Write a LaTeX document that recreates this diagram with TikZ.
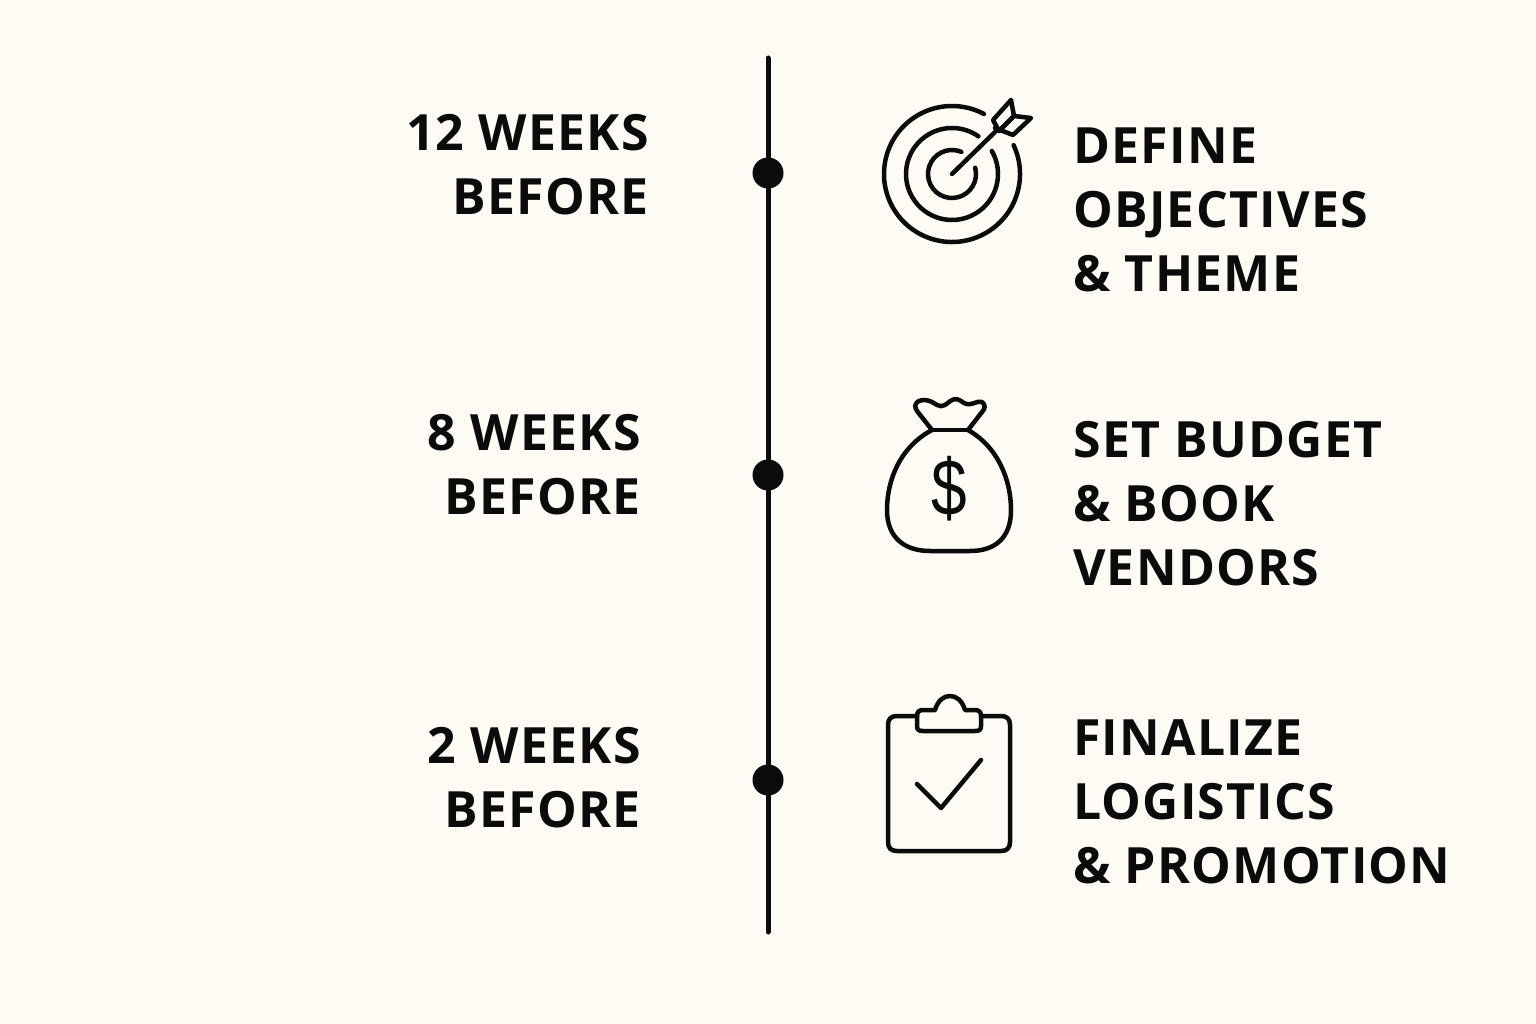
\documentclass[tikz,border=0pt]{standalone}
\usepackage{fontspec}
\setmainfont{Open Sans}[LetterSpace=2.5]
\newfontfamily\dollarfont{Liberation Sans}
\definecolor{paper}{HTML}{FEFBF5}
\definecolor{ink}{HTML}{0B0B0B}

\begin{document}
\begin{tikzpicture}[x=1pt,y=-1pt,
        when/.style={anchor=east, align=right, text=ink, inner sep=0pt, font=\bfseries\fontsize{50}{64}\selectfont},
        what/.style={anchor=west, align=left, text=ink, inner sep=0pt, font=\bfseries\fontsize{50}{64}\selectfont},
        dot/.style={circle, fill=ink, minimum size=31pt, inner sep=0pt},
        icon/.style={draw=ink, line width=4.5pt, line cap=round, line join=round}]
    \fill[paper] (0,0) rectangle (1536,1024);
    \useasboundingbox (0,0) rectangle (1536,1024);

    % timeline
    \coordinate (top) at (768,58);
    \coordinate (bottom) at (768,932);
    \draw[ink, line width=5pt, line cap=round] (top) -- (bottom);
    \node[dot] (dot12) at (768,173) {};
    \node[dot] (dot8) at (768,475) {};
    \node[dot] (dot2) at (768,780) {};

    \node[when] (when12) at (649,165) {12 WEEKS\\BEFORE};
    \node[when] (when8) at (641,465) {8 WEEKS\\BEFORE};
    \node[when] (when2) at (641,778) {2 WEEKS\\BEFORE};

    \node[what] (what12) at (1073,210) {DEFINE\\OBJECTIVES\\\& THEME};
    \node[what] (what8) at (1073,504) {SET BUDGET\\\& BOOK\\VENDORS};
    \node[what] (what2) at (1073,802) {FINALIZE\\LOGISTICS\\\& PROMOTION};

    % target
    \coordinate (bull) at (952,174);
    \draw[icon] (bull) ++(-25:68) arc[start angle=-25, end angle=298, radius=68];
    \draw[icon] (bull) ++(-30:46) arc[start angle=-30, end angle=305, radius=46];
    \draw[icon] (bull) ++(-15:24) arc[start angle=-15, end angle=293, radius=24];
    \draw[icon] (bull) -- (996,131);
    \draw[icon] (993,120) -- (1011,100) -- (1014,116) -- (999,131) -- cycle;
    \draw[icon] (999,131) -- (1014,116) -- (1031,118) -- (1013,135) -- (995,128);

    % bag
    \draw[icon] (932,430) -- (968,430);
    \draw[icon] (932,430) .. controls (900,447) and (887,480) .. (887,510)
        .. controls (887,538) and (905,551) .. (930,551) -- (970,551)
        .. controls (995,551) and (1011,538) .. (1011,510)
        .. controls (1011,480) and (998,447) .. (968,430);
    \draw[icon] (932,430) -- (917,411) .. controls (911,402) and (922,397) .. (932,402)
        .. controls (940,407) and (942,408) .. (949,402)
        .. controls (956,397) and (958,399) .. (964,403)
        .. controls (972,407) and (976,400) .. (982,402)
        .. controls (986,405) and (985,409) .. (982,412) -- (968,430);
    \node[text=ink, inner sep=0pt, yscale=1.25, transform shape, font=\dollarfont\fontsize{64}{64}\selectfont] (dollar) at (949,489) {\$};

    % clipboard
    \draw[icon] (917,716) -- (897,716) .. controls (891,716) and (888,719) .. (888,725) -- (888,842)
        .. controls (888,848) and (891,851) .. (897,851) -- (1001,851)
        .. controls (1007,851) and (1010,848) .. (1010,842) -- (1010,725)
        .. controls (1010,719) and (1007,716) .. (1001,716) -- (981,716);
    \draw[icon] (935,710) -- (923,710) .. controls (919,710) and (917,712) .. (917,716) -- (917,726)
        .. controls (917,730) and (919,731) .. (923,731) -- (975,731)
        .. controls (979,731) and (981,730) .. (981,726) -- (981,716)
        .. controls (981,712) and (979,710) .. (975,710) -- (965,710)
        .. controls (962,700) and (956,696) .. (950,696)
        .. controls (944,696) and (938,700) .. (935,710);
    \draw[icon] (917,784) -- (941,808) -- (981,760);
\end{tikzpicture}
\end{document}
